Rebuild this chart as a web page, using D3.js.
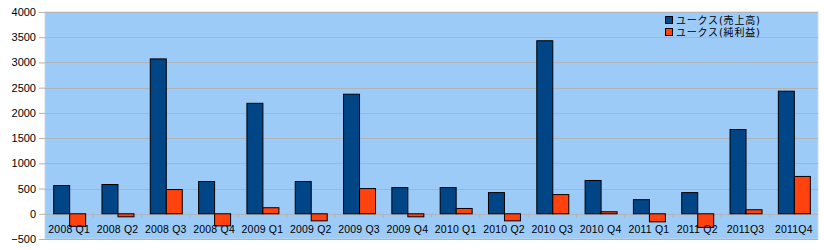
<!DOCTYPE html>
<meta charset="utf-8">
<script src="https://d3js.org/d3.v7.min.js"></script>
<style>
    body { margin: 0; background: #fff; }
</style>
<div id="chart"></div>

<script>

    const quarters = ["2008 Q1", "2008 Q2", "2008 Q3", "2008 Q4", "2009 Q1", "2009 Q2", "2009 Q3", "2009 Q4",
        "2010 Q1", "2010 Q2", "2010 Q3", "2010 Q4", "2011 Q1", "2011 Q2", "2011Q3", "2011Q4"];
    const sales = [560, 580, 3070, 640, 2190, 640, 2370, 520, 520, 420, 3430, 660, 280, 420, 1670, 2430];
    const profit = [-250, -60, 480, -240, 120, -140, 500, -60, 105, -140, 380, 40, -160, -270, 80, 740];
    const seriesNames = ["ユークス(売上高)", "ユークス(純利益)"];
    const yTicks = [-500, 0, 500, 1000, 1500, 2000, 2500, 3000, 3500, 4000];

    const colors = ["#004586", "#ff420e"];

    const W = 824, H = 250;
    const margin = {top: 12, right: 6, bottom: 11, left: 45},
        width = W - margin.left - margin.right,
        height = H - margin.top - margin.bottom;

    const svg = d3.select("#chart")
        .append("svg")
        .attr("width", W)
        .attr("height", H);

    const g = svg.append("g")
        .attr("transform", `translate(${margin.left}, ${margin.top})`);

    const x = d3.scaleBand()
        .domain(quarters)
        .range([0, width]);

    const y = d3.scaleLinear()
        .domain([-500, 4000])
        .range([height, 0]);

    // plot wall
    g.append("rect")
        .attr("width", width)
        .attr("height", height)
        .style("fill", "#9ccbf8")
        .style("stroke", "#c8d8e8");

    // gridlines
    g.append("g")
        .selectAll("line")
        .data(yTicks)
        .join("line")
        .attr("x1", 0)
        .attr("x2", width)
        .attr("y1", d => Math.round(y(d)) + 0.5)
        .attr("y2", d => Math.round(y(d)) + 0.5)
        .style("stroke", "#b0b4b8");

    // y axis
    const yAxis = g.append("g")
        .call(d3.axisLeft(y).tickValues(yTicks).tickSize(6).tickPadding(3).tickFormat(d3.format("d")));
    yAxis.select(".domain").remove();
    yAxis.selectAll(".tick line").style("stroke", "#b3b3b3");
    yAxis.selectAll("text")
        .style("font-family", "Arial, 'Liberation Sans', sans-serif")
        .style("font-size", "11px")
        .style("fill", "#000");

    // category ticks on zero line
    g.append("g")
        .selectAll("line")
        .data(quarters.slice(1))
        .join("line")
        .attr("x1", d => x(d))
        .attr("x2", d => x(d))
        .attr("y1", y(0))
        .attr("y2", y(0) + 4)
        .style("stroke", "#b3b3b3");

    const barW = 16;
    const series = [sales, profit];
    series.forEach((vals, i) => {
        g.append("g")
            .selectAll("rect")
            .data(quarters)
            .join("rect")
            .attr("x", (d, j) => x(d) + x.bandwidth() / 2 - barW + i * barW + 0.5)
            .attr("y", (d, j) => y(Math.max(0, vals[j])))
            .attr("width", barW)
            .attr("height", (d, j) => Math.abs(y(vals[j]) - y(0)))
            .style("fill", colors[i])
            .style("stroke", "#000")
            .style("stroke-width", 1);
    });

    // category labels
    g.append("g")
        .selectAll("text")
        .data(quarters)
        .join("text")
        .attr("x", d => x(d) + x.bandwidth() / 2)
        .attr("y", 221)
        .attr("text-anchor", "middle")
        .style("font-family", "Arial, 'Liberation Sans', sans-serif")
        .style("font-size", "10.5px")
        .style("letter-spacing", "0.2px")
        .style("fill", "#000")
        .text(d => d);

    // legend
    const legend = svg.append("g")
        .attr("transform", "translate(665, 15)");
    seriesNames.forEach((name, i) => {
        legend.append("rect")
            .attr("x", 0.5)
            .attr("y", i * 12 + 1.5)
            .attr("width", 7)
            .attr("height", 7)
            .style("fill", colors[i])
            .style("stroke", "#000");
        legend.append("text")
            .attr("x", 11)
            .attr("y", i * 12 + 9)
            .style("font-family", "'DejaVu Sans', 'Noto Sans CJK JP', sans-serif")
            .style("font-size", "10px")
            .style("letter-spacing", "0.8px")
            .style("fill", "#000")
            .text(name);
    });

</script>
